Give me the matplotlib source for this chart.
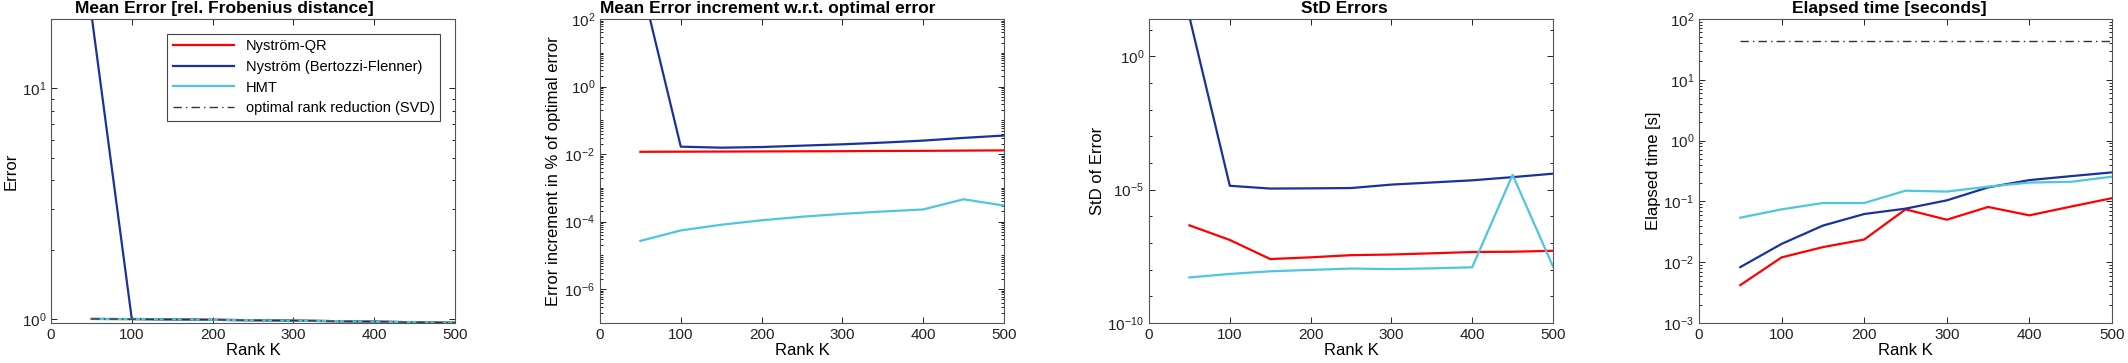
import matplotlib
matplotlib.use("Agg")
import matplotlib.pyplot as plt
from matplotlib.ticker import LogLocator, NullFormatter, FixedLocator

plt.rcParams['font.family'] = ['Liberation Sans', 'DejaVu Sans']

rank_k = [50, 100, 150, 200, 250, 300, 350, 400, 450, 500]

# mean error [rel. Frobenius distance]
err_qr = [1.0, 0.998, 0.995, 0.991, 0.987, 0.983, 0.978, 0.973, 0.967, 0.962]
err_bf = [21.0, 1.0, 0.995, 0.991, 0.987, 0.983, 0.978, 0.973, 0.967, 0.962]
err_hmt = [1.0, 0.998, 0.995, 0.991, 0.987, 0.983, 0.978, 0.973, 0.967, 0.962]
err_svd = [1.0, 0.998, 0.995, 0.991, 0.987, 0.983, 0.978, 0.973, 0.967, 0.962]

# error increment in % of optimal error
inc_qr = [0.0117, 0.0118, 0.0119, 0.0120, 0.0121, 0.0122, 0.0124, 0.0125, 0.0127, 0.0129]
inc_bf = [1500.0, 0.0166, 0.0155, 0.0162, 0.0178, 0.0195, 0.0219, 0.0251, 0.0302, 0.0355]
inc_hmt = [2.7e-5, 5.5e-5, 8.1e-5, 1.1e-4, 1.4e-4, 1.7e-4, 2.0e-4, 2.3e-4, 4.6e-4, 3.0e-4]

# std of errors
std_qr = [4.6e-7, 1.3e-7, 2.5e-8, 2.9e-8, 3.5e-8, 3.7e-8, 4.1e-8, 4.6e-8, 4.7e-8, 5.1e-8]
std_bf = [30.0, 1.4e-5, 1.1e-5, 1.12e-5, 1.15e-5, 1.55e-5, 1.86e-5, 2.24e-5, 2.95e-5, 3.98e-5]
std_hmt = [5.1e-9, 6.9e-9, 8.7e-9, 9.8e-9, 1.1e-8, 1.05e-8, 1.12e-8, 1.23e-8, 3.6e-5, 1.32e-8]

# elapsed time [s]
t_qr = [0.0042, 0.012, 0.0177, 0.0236, 0.074, 0.050, 0.081, 0.059, 0.082, 0.113]
t_bf = [0.0083, 0.020, 0.040, 0.062, 0.076, 0.104, 0.170, 0.224, 0.260, 0.300]
t_hmt = [0.054, 0.074, 0.094, 0.094, 0.150, 0.145, 0.175, 0.204, 0.210, 0.255]
t_svd = [44.0, 44.0, 44.0, 44.0, 44.0, 44.0, 44.0, 44.0, 44.0, 44.0]

labels = ['Nyström-QR', 'Nyström (Bertozzi-Flenner)', 'HMT', 'optimal rank reduction (SVD)']
c_qr = '#ff0000'
c_bf = '#1a339c'
c_hmt = '#4fc6dd'
c_svd = '#333333'
lw = 1.6

W, H = 2128, 363
fig = plt.figure(figsize=(W / 100, H / 100), dpi=100)

boxes = [(51, 455), (600, 1004), (1149, 1553), (1699, 2112)]
top, bot = 19, 323
axs = []
for x0, x1 in boxes:
    ax = fig.add_axes([x0 / W, 1 - bot / H, (x1 - x0) / W, (bot - top) / H])
    axs.append(ax)

titles = ['Mean Error [rel. Frobenius distance]',
          'Mean Error increment w.r.t. optimal error',
          'StD Errors',
          'Elapsed time [seconds]']
title_x = [0.43, 0.416, 0.483, 0.46]
ylabels = ['Error', 'Error increment in % of optimal error', 'StD of Error', 'Elapsed time [s]']

ax = axs[0]
ax.plot(rank_k, err_qr, color=c_qr, lw=lw, label=labels[0])
ax.plot(rank_k, err_bf, color=c_bf, lw=lw, label=labels[1])
ax.plot(rank_k, err_hmt, color=c_hmt, lw=lw, label=labels[2])
ax.plot(rank_k, err_svd, color=c_svd, lw=1.0, ls='-.', dashes=(6, 3, 1, 3), label=labels[3])
ax.set_yscale('log')
ax.set_ylim(0.96, 20)
ax.yaxis.set_major_locator(FixedLocator([1, 10]))
leg = ax.legend(loc='upper right', fontsize=10.5, handlelength=4.2, borderaxespad=1.0,
                fancybox=False, framealpha=1, edgecolor='#444444', labelspacing=0.45)
leg.get_frame().set_linewidth(0.8)

ax = axs[1]
ax.plot(rank_k, inc_qr, color=c_qr, lw=lw)
ax.plot(rank_k, inc_bf, color=c_bf, lw=lw)
ax.plot(rank_k, inc_hmt, color=c_hmt, lw=lw)
ax.set_yscale('log')
ax.set_ylim(1e-7, 1e2)
ax.yaxis.set_major_locator(FixedLocator([1e-6, 1e-4, 1e-2, 1e0, 1e2]))

ax = axs[2]
ax.plot(rank_k, std_qr, color=c_qr, lw=lw)
ax.plot(rank_k, std_bf, color=c_bf, lw=lw)
ax.plot(rank_k, std_hmt, color=c_hmt, lw=lw)
ax.set_yscale('log')
ax.set_ylim(1e-10, 10 ** 1.4)
ax.yaxis.set_major_locator(FixedLocator([1e-10, 1e-5, 1e0]))
ax.yaxis.set_minor_locator(LogLocator(base=10, subs=[1.0], numticks=30))

ax = axs[3]
ax.plot(rank_k, t_qr, color=c_qr, lw=lw)
ax.plot(rank_k, t_bf, color=c_bf, lw=lw)
ax.plot(rank_k, t_hmt, color=c_hmt, lw=lw)
ax.plot(rank_k, t_svd, color=c_svd, lw=1.0, ls='-.', dashes=(6, 3, 1, 3))
ax.set_yscale('log')
ax.set_ylim(1e-3, 1e2)
ax.yaxis.set_major_locator(FixedLocator([1e-3, 1e-2, 1e-1, 1e0, 1e1, 1e2]))

for i, ax in enumerate(axs):
    ax.set_xlim(0, 500)
    ax.set_xticks([0, 100, 200, 300, 400, 500])
    if i in (1, 3):
        ax.yaxis.set_minor_locator(LogLocator(base=10, subs=range(1, 10), numticks=100))
    ax.yaxis.set_minor_formatter(NullFormatter())
    ax.tick_params(which='both', direction='in', top=True, right=True,
                   labelsize=11, colors='#222222', width=0.7)
    ax.tick_params(which='major', length=4.5)
    ax.tick_params(which='minor', length=2.5)
    for s in ax.spines.values():
        s.set_color('#555555')
        s.set_linewidth(0.8)
    ax.set_title(titles[i], fontsize=12.5, fontweight='bold', x=title_x[i], pad=4)
    ax.set_xlabel('Rank K', fontsize=12, labelpad=1)
    ax.set_ylabel(ylabels[i], fontsize=12, labelpad=2)

fig.savefig('out.png', dpi=100)
